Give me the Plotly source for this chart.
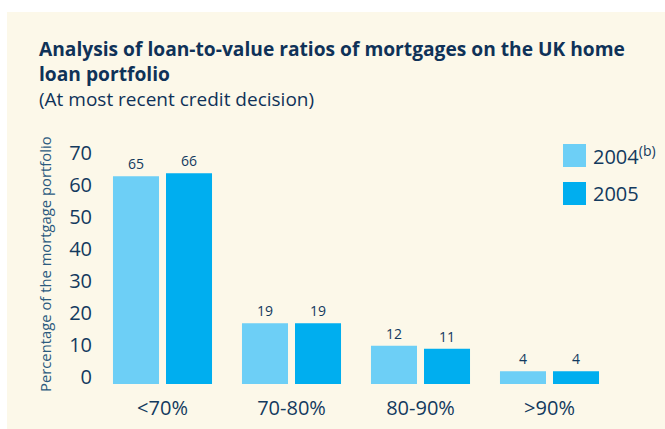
import plotly.graph_objects as go

categories = ["<70%", "70-80%", "80-90%", ">90%"]
series_names = ["2004<sup>(b)</sup>", "2005"]
values_2004 = [65, 19, 12, 4]
values_2005 = [66, 19, 11, 4]
y_ticks = [0, 10, 20, 30, 40, 50, 60, 70]

NAVY = "#133a5e"
colors = ["#6dcff6", "#00aeef"]
W, H = 665, 429
L, R, T, B = 98, 51, 154, 45
pw, ph = W - L - R, H - T - B

def px(x):
    return (x - L) / pw

def py(y):
    return (H - B - y) / ph

fig = go.Figure()
for name, vals, c in zip(series_names, [values_2004, values_2005], colors):
    fig.add_trace(go.Bar(
        x=categories, y=vals, name=name, marker=dict(color=c, line=dict(width=0)),
        text=vals, textposition="outside", cliponaxis=False,
        textfont=dict(family="Open Sans", size=14, color=NAVY),
        showlegend=False,
    ))

shapes = [dict(type="rect", xref="paper", yref="paper",
               x0=px(7), x1=px(W + 5), y0=py(H + 5), y1=py(12),
               fillcolor="#fcf8e9", line=dict(width=0), layer="below")]
title_text = ("<b>Analysis of loan-to-value ratios of mortgages on the UK home<br>loan portfolio</b>"
              "<br><span style='font-size:19px'>(At most recent credit decision)</span>")
annotations = [
    dict(text=title_text,
         xref="paper", yref="paper", x=px(37), y=py(33), xanchor="left", yanchor="top",
         align="left", showarrow=False,
         font=dict(family="Open Sans", size=19.2, color="#0f3258")),
    dict(text="Percentage of the mortgage portfolio", textangle=-90,
         xref="paper", yref="paper", x=px(45), y=py(264), xanchor="center", yanchor="middle",
         showarrow=False, font=dict(family="Open Sans", size=14.8, color="#2b5a7e")),
]
leg_y = [(144, 167), (182, 205)]
for (y0, y1), name, c in zip(leg_y, series_names, colors):
    shapes.append(dict(type="rect", xref="paper", yref="paper",
                       x0=px(563), x1=px(586), y0=py(y1), y1=py(y0),
                       fillcolor=c, line=dict(width=0)))
    annotations.append(dict(text=name, xref="paper", yref="paper",
                            x=px(591), y=py((y0 + y1) / 2), xanchor="left", yanchor="middle",
                            showarrow=False,
                            font=dict(family="Open Sans", size=20, color=NAVY)))

fig.update_layout(
    width=W, height=H,
    margin=dict(l=L, r=R, t=T, b=B, pad=0),
    paper_bgcolor="white", plot_bgcolor="rgba(0,0,0,0)",
    barmode="group", bargap=0.178, bargroupgap=0.132,
    shapes=shapes, annotations=annotations,
    xaxis=dict(showgrid=False, zeroline=False, showline=False, ticks="", automargin=False,
               tickfont=dict(family="Open Sans", size=20, color=NAVY),
               ticklabelstandoff=10),
    yaxis=dict(range=[0, 72], tickvals=y_ticks, showgrid=False, zeroline=False,
               showline=False, ticks="", automargin=False, ticklabelshift=-7,
               ticklabelstandoff=5,
               tickfont=dict(family="Open Sans", size=20, color=NAVY)),
)
fig.write_html("out.html", config={"displayModeBar": False},
               post_script="document.body.style.margin='0';")
